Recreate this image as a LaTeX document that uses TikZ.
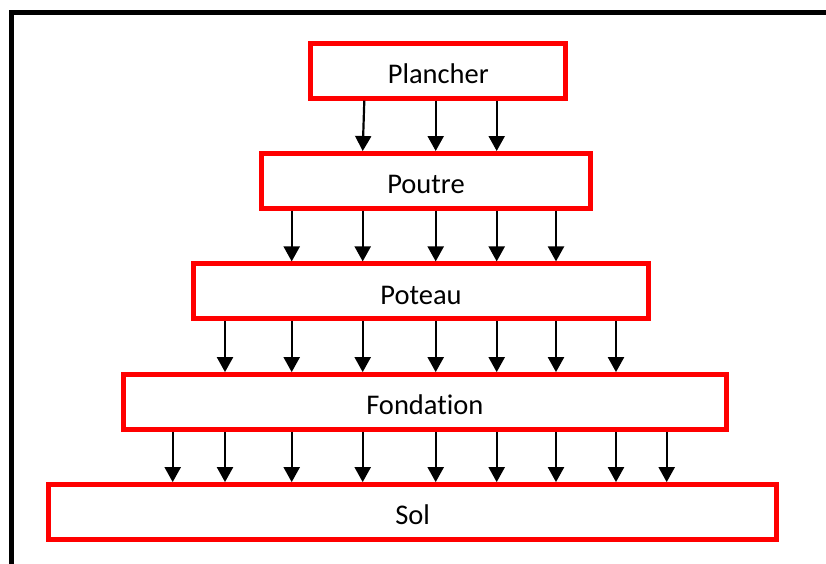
\documentclass[tikz,border=0pt]{standalone}
\usepackage{fontspec}
\setmainfont[Ligatures=NoCommon]{Carlito}
\usetikzlibrary{arrows.meta, positioning}

\begin{document}
\begin{tikzpicture}[
    x=1pt, y=-1pt,
    level/.style={rectangle, draw=red, line width=5pt, minimum width=#1, minimum height=54.7pt, text height=26pt, text depth=0pt, font=\fontsize{28.5}{34}\selectfont},
    load/.style={line width=2.2pt, -{Triangle[length=15pt, width=16pt]}}
]
    \useasboundingbox (0,0) rectangle (826,563);
    \draw [line width=5pt] (11.5,575) -- (11.5,12.5) -- (840,12.5);

    \node [level=255pt] (plancher) at (438.3,70.85) {Plancher};
    \node [level=328.4pt, below=50.3pt of plancher, xshift=-12.3pt] (poutre) {Poutre};
    \node [level=455pt, below=50.7pt of poutre, xshift=-5pt] (poteau) {Poteau};
    \node [level=602.7pt, below=51pt of poteau, xshift=3.85pt] (fond) {Fondation};
    \node [level=728.3pt, below=50.3pt of fond, xshift=-12.2pt] (sol) {Sol};

    \coordinate (col0) at (364.3,0);
    \coordinate (col1) at (172.7,0);
    \coordinate (col2) at (225,0);
    \coordinate (col3) at (291.7,0);
    \coordinate (col4) at (362.7,0);
    \coordinate (col5) at (435.7,0);
    \coordinate (col6) at (496.7,0);
    \coordinate (col7) at (556,0);
    \coordinate (col8) at (616,0);
    \coordinate (col9) at (666.7,0);

    \draw [load] (plancher.south -| col0) -- (poutre.north -| col4);
    \draw [load] (plancher.south -| col5) -- (poutre.north -| col5);
    \draw [load] (plancher.south -| col6) -- (poutre.north -| col6);

    \draw [load] (poutre.south -| col3) -- (poteau.north -| col3);
    \draw [load] (poutre.south -| col4) -- (poteau.north -| col4);
    \draw [load] (poutre.south -| col5) -- (poteau.north -| col5);
    \draw [load] (poutre.south -| col6) -- (poteau.north -| col6);
    \draw [load] (poutre.south -| col7) -- (poteau.north -| col7);

    \draw [load] (poteau.south -| col2) -- (fond.north -| col2);
    \draw [load] (poteau.south -| col3) -- (fond.north -| col3);
    \draw [load] (poteau.south -| col4) -- (fond.north -| col4);
    \draw [load] (poteau.south -| col5) -- (fond.north -| col5);
    \draw [load] (poteau.south -| col6) -- (fond.north -| col6);
    \draw [load] (poteau.south -| col7) -- (fond.north -| col7);
    \draw [load] (poteau.south -| col8) -- (fond.north -| col8);

    \draw [load] (fond.south -| col1) -- (sol.north -| col1);
    \draw [load] (fond.south -| col2) -- (sol.north -| col2);
    \draw [load] (fond.south -| col3) -- (sol.north -| col3);
    \draw [load] (fond.south -| col4) -- (sol.north -| col4);
    \draw [load] (fond.south -| col5) -- (sol.north -| col5);
    \draw [load] (fond.south -| col6) -- (sol.north -| col6);
    \draw [load] (fond.south -| col7) -- (sol.north -| col7);
    \draw [load] (fond.south -| col8) -- (sol.north -| col8);
    \draw [load] (fond.south -| col9) -- (sol.north -| col9);
\end{tikzpicture}
\end{document}
